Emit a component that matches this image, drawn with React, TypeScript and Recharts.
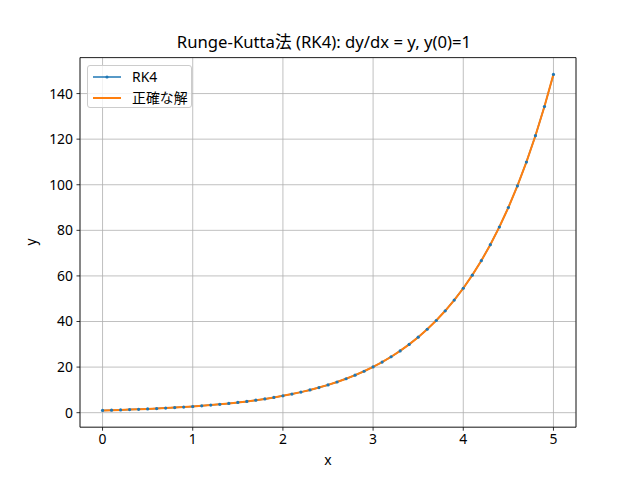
import React from 'react';
import { ComposedChart, Line, XAxis, YAxis, CartesianGrid, ReferenceLine } from 'recharts';

// x grid used by the solver, h = 0.1
const xs = [
  0.0, 0.1, 0.2, 0.3, 0.4, 0.5, 0.6, 0.7, 0.8, 0.9,
  1.0, 1.1, 1.2, 1.3, 1.4, 1.5, 1.6, 1.7, 1.8, 1.9,
  2.0, 2.1, 2.2, 2.3, 2.4, 2.5, 2.6, 2.7, 2.8, 2.9,
  3.0, 3.1, 3.2, 3.3, 3.4, 3.5, 3.6, 3.7, 3.8, 3.9,
  4.0, 4.1, 4.2, 4.3, 4.4, 4.5, 4.6, 4.7, 4.8, 4.9,
  5.0,
];

const rk4 = [
  1.0, 1.105, 1.221, 1.35, 1.492, 1.649, 1.822, 2.014, 2.226, 2.46,
  2.718, 3.004, 3.32, 3.669, 4.055, 4.482, 4.953, 5.474, 6.05, 6.686,
  7.389, 8.166, 9.025, 9.974, 11.023, 12.182, 13.464, 14.88, 16.445, 18.174,
  20.085, 22.198, 24.532, 27.113, 29.964, 33.115, 36.598, 40.447, 44.701, 49.402,
  54.598, 60.34, 66.686, 73.7, 81.451, 90.017, 99.484, 109.947, 121.51, 134.289,
  148.412,
];

const exact = [
  1.0, 1.105, 1.221, 1.35, 1.492, 1.649, 1.822, 2.014, 2.226, 2.46,
  2.718, 3.004, 3.32, 3.669, 4.055, 4.482, 4.953, 5.474, 6.05, 6.686,
  7.389, 8.166, 9.025, 9.974, 11.023, 12.182, 13.464, 14.88, 16.445, 18.174,
  20.086, 22.198, 24.533, 27.113, 29.964, 33.115, 36.598, 40.447, 44.701, 49.402,
  54.598, 60.34, 66.686, 73.7, 81.451, 90.017, 99.484, 109.947, 121.51, 134.29,
  148.413,
];

const xTicks = [0, 1, 2, 3, 4, 5];
const yTicks = [0, 20, 40, 60, 80, 100, 120, 140];

const data = xs.map((x, i) => ({ x, rk4: rk4[i], exact: exact[i] }));

const FONT = '"Noto Sans", "Noto Sans CJK JP", sans-serif';
const BLUE = '#1f77b4';
const ORANGE = '#ff7f0e';
const X_DOMAIN: [number, number] = [-0.25, 5.25];
const Y_DOMAIN: [number, number] = [-6.37, 155.78];

const tickStyle = { fill: '#000', fontSize: 13.9, fontFamily: FONT };

export default function App() {
  return (
    <div style={{ position: 'absolute', left: 0, top: 0, width: 640, height: 480, background: '#fff', fontFamily: FONT }}>
      <ComposedChart
        width={640}
        height={480}
        data={data}
        margin={{ top: 57.6, right: 64, bottom: 0, left: 0 }}
      >
        <CartesianGrid stroke="#b0b0b0" strokeWidth={0.8} />
        <XAxis
          dataKey="x"
          type="number"
          domain={X_DOMAIN}
          ticks={xTicks}
          height={52.8}
          tick={tickStyle}
          tickSize={3.5}
          tickMargin={3.5}
          axisLine={{ stroke: '#000', strokeWidth: 0.8 }}
          tickLine={{ stroke: '#000', strokeWidth: 0.8 }}
          label={{ value: 'x', position: 'insideBottom', offset: 15, fill: '#000', fontSize: 13.9, fontFamily: FONT }}
        />
        <YAxis
          type="number"
          domain={Y_DOMAIN}
          ticks={yTicks}
          width={80}
          tick={tickStyle}
          tickSize={3.5}
          tickMargin={3.5}
          axisLine={{ stroke: '#000', strokeWidth: 0.8 }}
          tickLine={{ stroke: '#000', strokeWidth: 0.8 }}
          label={{
            content: () => (
              <text x={32} y={242} transform="rotate(-90, 32, 242)" textAnchor="middle" dominantBaseline="middle"
                fill="#000" fontSize={13.9} fontFamily={FONT}>y</text>
            ),
          }}
        />
        <ReferenceLine x={X_DOMAIN[1]} stroke="#000" strokeWidth={0.8} />
        <ReferenceLine y={Y_DOMAIN[1]} stroke="#000" strokeWidth={0.8} />
        <Line
          dataKey="rk4"
          type="linear"
          stroke={BLUE}
          strokeWidth={1.5}
          dot={{ r: 1.6, fill: BLUE, stroke: BLUE, strokeWidth: 0 }}
          activeDot={false}
          isAnimationActive={false}
        />
        <Line
          dataKey="exact"
          type="linear"
          stroke={ORANGE}
          strokeWidth={2}
          dot={false}
          activeDot={false}
          isAnimationActive={false}
        />
      </ComposedChart>

      <div style={{ position: 'absolute', left: 76, top: 31, width: 496, textAlign: 'center', fontSize: 16.7, lineHeight: '22px', color: '#000' }}>
        Runge-Kutta法 (RK4): dy/dx = y, y(0)=1
      </div>

      <div style={{
        position: 'absolute', left: 87, top: 65, width: 105, height: 43,
        border: '1px solid #cccccc', borderRadius: 3, background: 'rgba(255,255,255,0.8)', boxSizing: 'border-box',
      }}>
        {[{ name: 'RK4', color: BLUE, marker: true }, { name: '正確な解', color: ORANGE, marker: false }].map((it, i) => (
          <div key={it.name} style={{ position: 'absolute', left: 4, top: 0.5 + i * 21, height: 20, display: 'flex', alignItems: 'center' }}>
            <svg width={30} height={20} style={{ display: 'block' }}>
              <line x1={1} y1={10} x2={29} y2={10} stroke={it.color} strokeWidth={it.marker ? 1.5 : 2} />
              {it.marker && <circle cx={15} cy={10} r={1.6} fill={it.color} />}
            </svg>
            <span style={{ marginLeft: 10, fontSize: 13.9, color: '#000', lineHeight: '20px' }}>{it.name}</span>
          </div>
        ))}
      </div>
    </div>
  );
}
